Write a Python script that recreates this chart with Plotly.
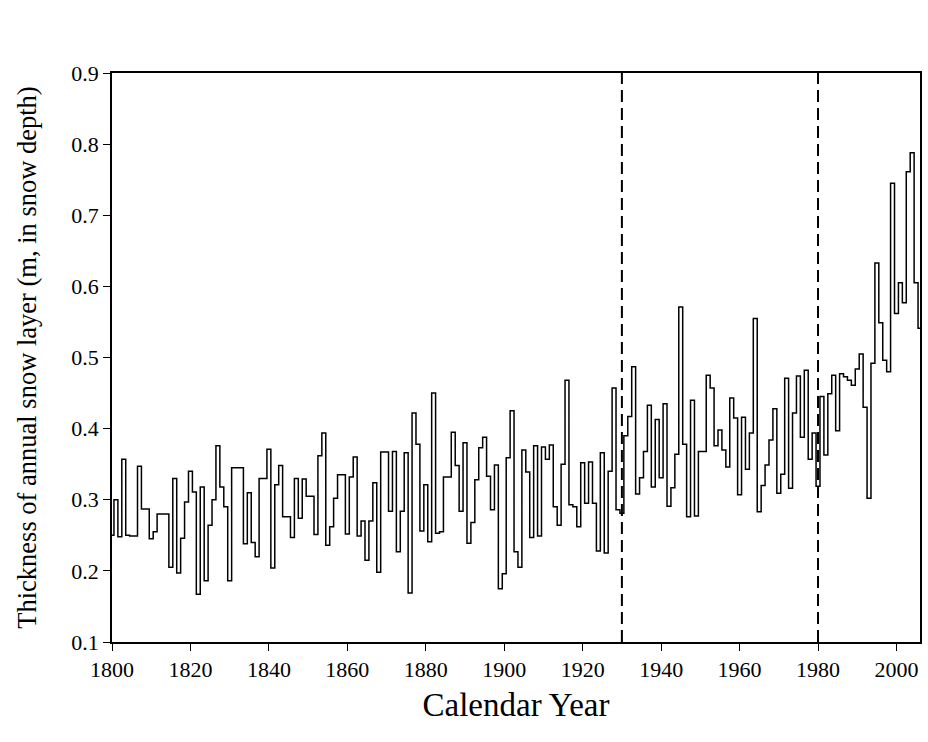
import plotly.graph_objects as go

years = list(range(1800, 2007))
thickness = [
    0.25, 0.30, 0.248, 0.357, 0.25, 0.249, 0.249, 0.347, 0.287, 0.287,   # 1800-1809
    0.245, 0.255, 0.28, 0.28, 0.28, 0.205, 0.33, 0.197, 0.246, 0.297,    # 1810-1819
    0.34, 0.311, 0.167, 0.318, 0.186, 0.264, 0.30, 0.376, 0.318, 0.29,   # 1820-1829
    0.186, 0.345, 0.345, 0.345, 0.238, 0.31, 0.24, 0.22, 0.33, 0.33,     # 1830-1839
    0.371, 0.204, 0.321, 0.348, 0.276, 0.276, 0.247, 0.33, 0.274, 0.329, # 1840-1849
    0.305, 0.305, 0.251, 0.362, 0.394, 0.236, 0.262, 0.302, 0.335, 0.335,# 1850-1859
    0.252, 0.332, 0.36, 0.249, 0.27, 0.215, 0.27, 0.324, 0.198, 0.367,   # 1860-1869
    0.367, 0.284, 0.368, 0.227, 0.284, 0.366, 0.169, 0.422, 0.378, 0.256,# 1870-1879
    0.321, 0.241, 0.45, 0.253, 0.255, 0.332, 0.332, 0.395, 0.348, 0.284, # 1880-1889
    0.38, 0.239, 0.268, 0.328, 0.373, 0.388, 0.333, 0.286, 0.349, 0.175, # 1890-1899
    0.196, 0.359, 0.425, 0.227, 0.205, 0.37, 0.339, 0.247, 0.376, 0.249, # 1900-1909
    0.374, 0.357, 0.377, 0.29, 0.264, 0.35, 0.468, 0.293, 0.29, 0.262,   # 1910-1919
    0.352, 0.295, 0.353, 0.295, 0.228, 0.366, 0.225, 0.34, 0.457, 0.286, # 1920-1929
    0.281, 0.39, 0.417, 0.487, 0.308, 0.331, 0.368, 0.433, 0.318, 0.413, # 1930-1939
    0.331, 0.435, 0.291, 0.317, 0.364, 0.571, 0.378, 0.276, 0.44, 0.277, # 1940-1949
    0.368, 0.368, 0.475, 0.457, 0.376, 0.398, 0.37, 0.346, 0.443, 0.415, # 1950-1959
    0.307, 0.416, 0.343, 0.394, 0.555, 0.283, 0.32, 0.349, 0.384, 0.428, # 1960-1969
    0.309, 0.336, 0.471, 0.316, 0.422, 0.474, 0.388, 0.482, 0.357, 0.394,# 1970-1979
    0.319, 0.445, 0.363, 0.449, 0.475, 0.397, 0.477, 0.473, 0.468, 0.461,# 1980-1989
    0.484, 0.505, 0.43, 0.302, 0.492, 0.633, 0.549, 0.496, 0.48, 0.745,  # 1990-1999
    0.562, 0.605, 0.577, 0.761, 0.788, 0.605, 0.541                      # 2000-2006
]
period_breaks = [1930, 1980]
x_ticks = list(range(1800, 2001, 20))
y_ticks = [0.1, 0.2, 0.3, 0.4, 0.5, 0.6, 0.7, 0.8, 0.9]

font_family = "Liberation Serif, Times New Roman, serif"

fig = go.Figure()
fig.add_trace(go.Scatter(
    x=years, y=thickness, mode="lines",
    line=dict(color="black", width=1.5, shape="hvh"),
    showlegend=False,
))

for b in period_breaks:
    fig.add_shape(type="line", xref="x", yref="paper", x0=b, x1=b, y0=0, y1=1,
                  line=dict(color="black", width=2, dash="12px,6px"))

fig.update_layout(
    width=928, height=742,
    margin=dict(l=112, r=6, t=73, b=100),
    paper_bgcolor="white", plot_bgcolor="white",
    font=dict(family=font_family, color="black", size=22),
)
fig.update_xaxes(
    range=[1800, 2006], tickvals=x_ticks, ticks="outside", ticklen=7, tickwidth=1.2,
    tickcolor="black", showline=True, linecolor="black", linewidth=1.5, mirror=True,
    showgrid=False, zeroline=False,
    title=dict(text="Calendar Year", font=dict(size=33, family=font_family), standoff=12),
    tickfont=dict(size=22, family=font_family),
)
fig.update_yaxes(
    range=[0.1, 0.9], tickvals=y_ticks, tickformat=".1f", ticks="outside", ticklen=7,
    tickwidth=1.2, tickcolor="black", showline=True, linecolor="black", linewidth=1.5,
    mirror=True, showgrid=False, zeroline=False,
    title=dict(text="Thickness of annual snow layer (m, in snow depth)",
               font=dict(size=26.5, family=font_family), standoff=27),
    tickfont=dict(size=22, family=font_family),
)

fig.write_html(
    "out.html",
    config={"displayModeBar": False},
    post_script="document.body.style.margin='0';document.body.style.overflow='hidden';",
)
